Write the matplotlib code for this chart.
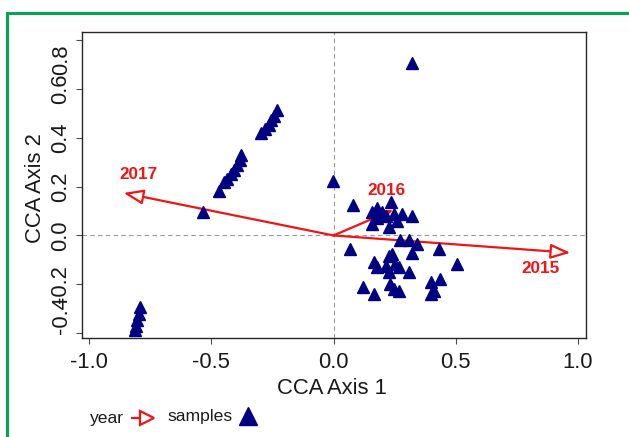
import matplotlib
matplotlib.use("Agg")
from matplotlib import pyplot as plt
from matplotlib.lines import Line2D

plt.rcParams['font.family'] = ['Liberation Sans', 'DejaVu Sans']

# site scores (CCA axis 1, CCA axis 2)
samples_x = [-0.233, -0.244, -0.255, -0.265, -0.282, -0.298,
             -0.377, -0.384, -0.394, -0.408, -0.421, -0.435, -0.448, -0.469,
             -0.533,
             -0.792, -0.796, -0.803, -0.810, -0.814,
             0.322, -0.003,
             0.080, 0.179, 0.236, 0.158, 0.199, 0.213, 0.247, 0.281, 0.322,
             0.158, 0.226, 0.260, 0.179,
             0.271, 0.308, 0.342, 0.430, 0.069, 0.322, 0.226, 0.240,
             0.506, 0.165, 0.179, 0.213, 0.253, 0.267, 0.226, 0.308,
             0.121, 0.165, 0.233, 0.247, 0.267, 0.397, 0.435, 0.410, 0.397]
samples_y = [0.513, 0.491, 0.472, 0.451, 0.434, 0.418,
             0.328, 0.309, 0.287, 0.268, 0.251, 0.233, 0.219, 0.182,
             0.097,
             -0.294, -0.321, -0.348, -0.369, -0.389,
             0.706, 0.223,
             0.125, 0.114, 0.139, 0.094, 0.094, 0.080, 0.087, 0.087, 0.080,
             0.047, 0.033, 0.060, 0.073,
             -0.019, -0.019, -0.035, -0.055, -0.055, -0.072, -0.083, -0.076,
             -0.117, -0.110, -0.128, -0.124, -0.117, -0.131, -0.151, -0.151,
             -0.212, -0.239, -0.198, -0.219, -0.229, -0.192, -0.178, -0.226, -0.239]

# biplot arrows for year
years = ['2015', '2016', '2017']
year_x = [0.969, 0.245, -0.859]
year_y = [-0.071, 0.105, 0.174]
label_x = [0.846, 0.217, -0.800]
label_y = [-0.136, 0.186, 0.250]

xticks = [-1.0, -0.5, 0.0, 0.5, 1.0]
yticks = [-0.4, -0.2, 0.0, 0.2, 0.4, 0.6, 0.8]

RED = '#f01414'
NAVY = '#000080'

fig = plt.figure(figsize=(6.29, 4.37), dpi=100)
ax = fig.add_axes([0.1304, 0.2265, 0.8013, 0.7002])
ax.set_xlim(-1.029, 1.033)
ax.set_ylim(-0.42, 0.833)

ax.axhline(0, color='0.6', lw=0.8, ls=(0, (4, 3)), zorder=1)
ax.axvline(0, color='0.6', lw=0.8, ls=(0, (4, 3)), zorder=1)

for yr, tx, ty, lx, ly in zip(years, year_x, year_y, label_x, label_y):
    ax.annotate('', xy=(tx, ty), xytext=(0, 0),
                arrowprops=dict(arrowstyle='-|>,head_length=1.2,head_width=0.45',
                                ec=RED, fc='white', lw=1.6, mutation_scale=10,
                                shrinkA=0, shrinkB=0),
                zorder=2)
    ax.text(lx, ly, yr, color=RED, fontsize=12.3, fontweight='bold',
            ha='center', va='center', zorder=4)

ax.plot(samples_x, samples_y, ls='none', marker='^', ms=8, color=NAVY, zorder=3)

for s in ax.spines.values():
    s.set_linewidth(1.0)
    s.set_color('0.15')

ax.set_xticks(xticks)
ax.set_xticklabels(['-1.0', '-0.5', '0.0', '0.5', '1.0'])
ax.set_yticks(yticks)
# end labels are nudged inside in the original
ax.set_yticklabels(['', '-0.2', '0.0', '0.2', '0.4', '0.6', ''])
ax.tick_params(axis='both', direction='out', length=4, width=0.8, color='0.3',
               labelsize=15.8, labelcolor='0.1')
ax.tick_params(axis='x', pad=6)
ax.tick_params(axis='y', pad=4, labelrotation=90)
for lab in ax.get_yticklabels():
    lab.set_va('center')
ytr = ax.get_yaxis_transform()
lab_x = (72 - 82) / 504
ax.text(lab_x, 0.721, '0.8', transform=ytr, rotation=90, ha='right', va='center',
        fontsize=15.8, color='0.1')
ax.text(lab_x, -0.325, '-0.4', transform=ytr, rotation=90, ha='right', va='center',
        fontsize=15.8, color='0.1')

ax.set_xlabel('CCA Axis 1', fontsize=15.8, color='0.1')
ax.set_ylabel('CCA Axis 2', fontsize=15.8, color='0.1')
ax.xaxis.set_label_coords(0.495, -0.132)
ax.yaxis.set_label_coords(-0.072, 0.49)

# legend row at the bottom
W, H = 629, 437
fig.text(90 / W, 1 - 418 / H, 'year', fontsize=12.6, color='0.1', ha='left', va='center')
fig.add_artist(Line2D([132 / W, 142 / W], [1 - 418 / H, 1 - 418 / H],
                      transform=fig.transFigure, color=RED, lw=1.6))
fig.add_artist(Line2D([147 / W], [1 - 418 / H], transform=fig.transFigure,
                      marker='>', ms=9.5, mfc='white', mec=RED, mew=1.6, ls='none'))
fig.text(168 / W, 1 - 417 / H, 'samples', fontsize=12.6, color='0.1', ha='left', va='center')
fig.add_artist(Line2D([248 / W], [1 - 416 / H], transform=fig.transFigure,
                      marker='^', ms=13, color=NAVY, ls='none'))

# green frame
GREEN = '#00a651'
fig.add_artist(Line2D([7 / W, 1.0], [1 - 13 / H, 1 - 13 / H],
                      transform=fig.transFigure, color=GREEN, lw=2.2))
fig.add_artist(Line2D([7 / W, 7 / W], [1 - 13 / H, 0.0],
                      transform=fig.transFigure, color=GREEN, lw=2.2))

fig.savefig('out.png', dpi=100)
